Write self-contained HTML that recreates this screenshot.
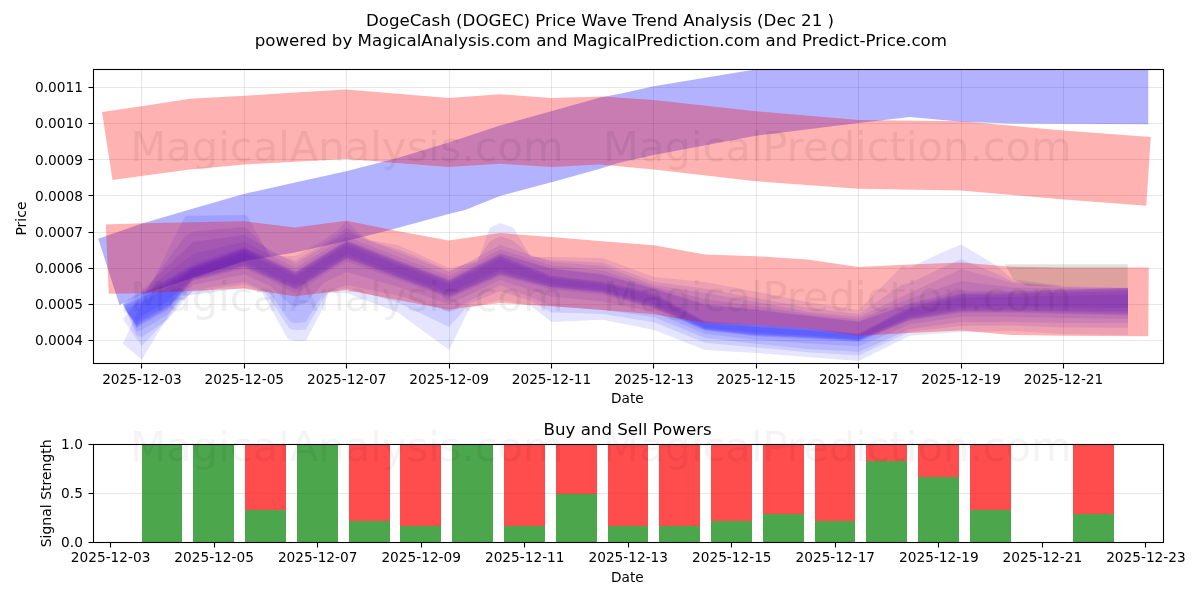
<!DOCTYPE html>
<html lang="en"><head><meta charset="utf-8"><title>DogeCash (DOGEC) Price Wave Trend Analysis</title>
<style>html,body{margin:0;padding:0;background:#fff;overflow:hidden}body{width:1200px;height:600px}svg text{white-space:pre}</style>
</head><body>
<svg width="1200" height="600" viewBox="0 0 1200 600" style="display:block;font-family:'DejaVu Sans', 'Liberation Sans', sans-serif">
<rect x="0" y="0" width="1200" height="600" fill="#fff"/>
<defs><clipPath id="c1"><rect x="93.50" y="69.50" width="1070.00" height="294.00"/></clipPath>
<clipPath id="c2"><rect x="93.50" y="444.50" width="1070.00" height="98.00"/></clipPath></defs>
<g stroke="#b0b0b0" stroke-opacity="0.3" stroke-width="1.1" shape-rendering="crispEdges">
<line x1="141.5" y1="69.5" x2="141.5" y2="363.5"/>
<line x1="244.5" y1="69.5" x2="244.5" y2="363.5"/>
<line x1="346.5" y1="69.5" x2="346.5" y2="363.5"/>
<line x1="449.5" y1="69.5" x2="449.5" y2="363.5"/>
<line x1="551.5" y1="69.5" x2="551.5" y2="363.5"/>
<line x1="653.5" y1="69.5" x2="653.5" y2="363.5"/>
<line x1="756.5" y1="69.5" x2="756.5" y2="363.5"/>
<line x1="858.5" y1="69.5" x2="858.5" y2="363.5"/>
<line x1="961.5" y1="69.5" x2="961.5" y2="363.5"/>
<line x1="1063.5" y1="69.5" x2="1063.5" y2="363.5"/>
<line x1="93.5" y1="340.5" x2="1163.5" y2="340.5"/>
<line x1="93.5" y1="304.5" x2="1163.5" y2="304.5"/>
<line x1="93.5" y1="268.5" x2="1163.5" y2="268.5"/>
<line x1="93.5" y1="232.5" x2="1163.5" y2="232.5"/>
<line x1="93.5" y1="195.5" x2="1163.5" y2="195.5"/>
<line x1="93.5" y1="159.5" x2="1163.5" y2="159.5"/>
<line x1="93.5" y1="123.5" x2="1163.5" y2="123.5"/>
<line x1="93.5" y1="87.5" x2="1163.5" y2="87.5"/>
</g>
<g clip-path="url(#c1)">
<polygon points="98.25,238.75 141.25,223.75 192.50,208.75 244.50,193.75 295.00,182.50 346.25,171.25 397.50,158.00 448.70,142.50 500.00,125.60 552.00,111.00 600.00,97.50 620.00,93.75 653.75,86.25 755.00,69.40 807.00,58.00 1148.25,50.00 1148.25,124.25 1012.00,123.50 961.25,121.75 910.00,117.00 858.75,123.00 756.00,135.75 653.75,155.00 620.00,162.50 600.00,168.75 552.50,182.00 500.00,196.00 465.00,210.00 448.75,214.00 390.00,230.00 346.00,241.00 295.00,252.50 244.50,261.00 192.50,278.00 141.25,295.00 119.50,305.00" fill="#0000ff" fill-opacity="0.3" />
<polygon points="122.96,343.70 141.90,302.00 167.50,251.24 180.30,225.85 185.42,215.70 193.10,215.70 244.30,215.00 246.86,215.70 262.22,242.57 269.90,256.00 287.82,256.00 290.38,256.00 295.50,256.00 305.74,250.18 321.10,241.45 323.66,240.00 328.78,236.40 336.46,231.00 346.70,221.00 356.94,231.00 369.74,240.00 397.90,245.00 449.10,268.00 469.58,263.64 477.26,262.00 490.06,227.50 500.30,223.00 513.10,227.50 531.02,257.00 551.50,257.00 602.70,258.00 653.90,277.00 705.10,282.00 756.30,291.70 807.50,302.00 858.70,310.00 902.22,266.00 909.90,267.70 940.62,253.00 961.10,244.50 984.14,258.00 996.94,266.00 1012.30,279.00 1063.50,286.00 1128.01,287.00 1128.01,335.00 1063.50,334.00 1012.30,331.00 996.94,331.30 984.14,331.55 961.10,332.00 940.62,333.48 909.90,335.70 902.22,339.50 858.70,361.00 807.50,357.00 756.30,353.00 705.10,350.00 653.90,330.00 602.70,319.70 551.50,322.00 531.02,306.00 513.10,302.50 500.30,300.00 490.06,302.67 477.26,306.00 469.58,308.00 449.10,350.00 397.90,312.50 369.74,301.77 356.94,296.90 346.70,293.00 336.46,293.00 328.78,293.00 323.66,305.47 321.10,311.70 305.74,341.00 295.50,341.00 290.38,339.67 287.82,339.00 269.90,306.80 262.22,293.00 246.86,288.71 244.30,288.00 193.10,295.00 185.42,295.60 180.30,296.00 167.50,317.23 141.90,359.70 122.96,343.70" fill="#0000ff" fill-opacity="0.1" />
<polygon points="122.96,319.28 141.90,295.10 167.50,260.24 180.30,242.82 185.42,235.84 193.10,231.48 244.30,227.00 246.86,228.15 262.22,244.12 269.90,252.10 287.82,258.19 290.38,259.06 295.50,260.80 305.74,254.63 321.10,245.38 323.66,243.84 328.78,240.48 336.46,235.44 346.70,227.60 356.94,234.00 369.74,240.60 397.90,249.20 449.10,270.40 469.58,262.17 477.26,259.09 490.06,241.24 500.30,236.20 513.10,240.55 531.02,255.92 551.50,260.00 602.70,262.80 653.90,281.80 705.10,288.60 756.30,297.88 807.50,307.82 858.70,314.20 902.22,284.36 909.90,282.88 940.62,268.36 961.10,259.20 984.14,268.38 996.94,273.68 1012.30,281.40 1063.50,286.60 1128.01,287.60 1128.01,327.80 1063.50,327.40 1012.30,325.60 996.94,325.72 984.14,325.82 961.10,326.00 940.62,328.27 909.90,331.68 902.22,335.24 858.70,355.42 807.50,352.20 756.30,347.42 705.10,342.80 653.90,322.20 602.70,313.88 551.50,312.40 531.02,300.96 513.10,295.15 500.30,291.00 490.06,295.27 477.26,300.61 469.58,303.81 449.10,327.02 397.90,302.42 369.74,294.60 356.94,291.04 346.70,288.20 336.46,290.33 328.78,291.93 323.66,297.99 321.10,302.97 305.74,329.60 295.50,330.20 290.38,329.07 287.82,326.62 269.90,298.52 262.22,291.02 246.86,285.35 244.30,284.40 193.10,292.00 185.42,297.64 180.30,301.40 167.50,318.89 141.90,346.08 136.70,339.08" fill="#0000ff" fill-opacity="0.1" />
<polygon points="122.96,303.00 141.90,290.50 167.50,266.25 180.30,254.12 185.42,249.28 193.10,242.00 244.30,235.00 246.86,236.45 262.22,245.15 269.90,249.50 287.82,259.65 290.38,261.10 295.50,264.00 305.74,257.60 321.10,248.00 323.66,246.40 328.78,243.20 336.46,238.40 346.70,232.00 356.94,236.00 369.74,241.00 397.90,252.00 449.10,272.00 469.58,261.20 477.26,257.15 490.06,250.40 500.30,245.00 513.10,249.25 531.02,255.20 551.50,262.00 602.70,266.00 653.90,285.00 705.10,293.00 756.30,302.00 807.50,311.70 858.70,317.00 902.22,296.60 909.90,293.00 940.62,278.60 961.10,269.00 984.14,275.30 996.94,278.80 1012.30,283.00 1063.50,287.00 1128.01,288.00 1128.01,323.00 1063.50,323.00 1012.30,322.00 996.94,322.00 984.14,322.00 961.10,322.00 940.62,324.80 909.90,329.00 902.22,332.41 858.70,351.70 807.50,349.00 756.30,343.70 705.10,338.00 653.90,317.00 602.70,310.00 551.50,306.00 531.02,297.60 513.10,290.25 500.30,285.00 490.06,290.34 477.26,297.01 469.58,301.02 449.10,311.70 397.90,295.70 369.74,289.81 356.94,287.14 346.70,285.00 336.46,288.56 328.78,291.22 323.66,293.00 321.10,297.14 305.74,322.00 295.50,323.00 290.38,322.00 287.82,318.38 269.90,293.00 262.22,289.70 246.86,283.10 244.30,282.00 193.10,290.00 185.42,299.00 180.30,305.00 167.50,320.00 141.90,337.00 136.70,336.00" fill="#0000ff" fill-opacity="0.1" />
<polygon points="122.96,303.75 141.90,292.50 167.50,273.25 180.30,263.62 185.42,259.77 193.10,254.00 244.30,241.50 246.86,242.82 262.22,250.77 269.90,254.75 287.82,264.02 290.38,265.35 295.50,268.00 305.74,261.70 321.10,252.25 323.66,250.68 328.78,247.52 336.46,242.80 346.70,236.50 356.94,240.50 369.74,245.50 397.90,256.50 449.10,276.00 469.58,265.40 477.26,261.42 490.06,254.80 500.30,249.50 513.10,253.50 531.02,259.10 551.50,265.50 602.70,270.50 653.90,287.00 705.10,299.00 756.30,306.00 807.50,313.85 858.70,319.50 902.22,301.65 909.90,298.50 940.62,288.00 961.10,281.00 984.14,283.93 996.94,285.55 1012.30,287.50 1063.50,288.50 1128.01,288.00 1128.01,318.75 1063.50,318.00 1012.30,316.85 996.94,316.85 984.14,316.85 961.10,316.85 940.62,319.85 909.90,324.35 902.22,327.65 858.70,346.35 807.50,343.50 756.30,339.70 705.10,334.00 653.90,312.35 602.70,301.50 551.50,296.85 531.02,290.11 513.10,284.21 500.30,280.00 490.06,284.87 477.26,290.96 469.58,294.61 449.10,304.35 397.90,286.85 369.74,278.68 356.94,274.97 346.70,272.00 336.46,276.88 328.78,280.54 323.66,282.98 321.10,285.82 305.74,302.90 295.50,306.50 290.38,304.85 287.82,302.46 269.90,285.75 262.22,282.38 246.86,275.62 244.30,274.50 193.10,285.00 185.42,293.85 180.30,299.75 167.50,314.50 141.90,330.00 136.70,331.75" fill="#0000ff" fill-opacity="0.1" />
<polygon points="122.96,304.35 141.90,294.10 167.50,278.85 180.30,271.23 185.42,268.17 193.10,263.60 244.30,246.70 246.86,247.92 262.22,255.27 269.90,258.95 287.82,267.52 290.38,268.75 295.50,271.20 305.74,264.98 321.10,255.65 323.66,254.09 328.78,250.98 336.46,246.32 346.70,240.10 356.94,244.10 369.74,249.10 397.90,260.10 449.10,279.20 469.58,268.76 477.26,264.84 490.06,258.32 500.30,253.10 513.10,256.90 531.02,262.22 551.50,268.30 602.70,274.10 653.90,288.60 705.10,303.80 756.30,309.20 807.50,315.57 858.70,321.50 902.22,305.69 909.90,302.90 940.62,295.52 961.10,290.60 984.14,290.82 996.94,290.95 1012.30,291.10 1063.50,289.70 1128.01,288.00 1128.01,315.35 1063.50,314.00 1012.30,312.73 996.94,312.73 984.14,312.73 961.10,312.73 940.62,315.89 909.90,320.63 902.22,323.85 858.70,342.07 807.50,339.10 756.30,336.50 705.10,330.80 653.90,308.63 602.70,294.70 551.50,289.53 531.02,284.12 513.10,279.38 500.30,276.00 490.06,280.49 477.26,286.11 469.58,289.48 449.10,298.47 397.90,279.77 369.74,269.78 356.94,265.23 346.70,261.60 336.46,267.54 328.78,271.99 323.66,274.95 321.10,276.76 305.74,287.62 295.50,293.30 290.38,291.13 287.82,289.73 269.90,279.95 262.22,276.51 246.86,269.64 244.30,268.50 193.10,281.00 185.42,289.73 180.30,295.55 167.50,310.10 141.90,324.40 136.70,328.35" fill="#0000ff" fill-opacity="0.1" />
<polygon points="122.96,304.50 141.90,294.50 167.50,280.25 180.30,273.12 185.42,270.27 193.10,266.00 244.30,248.00 246.86,249.20 262.22,256.40 269.90,260.00 287.82,268.40 290.38,269.60 295.50,272.00 305.74,265.80 321.10,256.50 323.66,254.95 328.78,251.85 336.46,247.20 346.70,241.00 356.94,245.00 369.74,250.00 397.90,261.00 449.10,280.00 469.58,269.60 477.26,265.70 490.06,259.20 500.30,254.00 513.10,257.75 531.02,263.00 551.50,269.00 602.70,275.00 653.90,289.00 705.10,305.00 756.30,310.00 807.50,316.00 858.70,322.00 902.22,306.70 909.90,304.00 940.62,297.40 961.10,293.00 984.14,292.55 996.94,292.30 1012.30,292.00 1063.50,290.00 1128.01,288.00 1128.01,314.50 1063.50,313.00 1012.30,311.70 996.94,311.70 984.14,311.70 961.10,311.70 940.62,314.90 909.90,319.70 902.22,322.89 858.70,341.00 807.50,338.00 756.30,335.70 705.10,330.00 653.90,307.70 602.70,293.00 551.50,287.70 531.02,282.62 513.10,278.18 500.30,275.00 490.06,279.40 477.26,284.90 469.58,288.20 449.10,297.00 397.90,278.00 369.74,267.55 356.94,262.80 346.70,259.00 336.46,265.20 328.78,269.85 323.66,272.95 321.10,274.50 305.74,283.80 295.50,290.00 290.38,287.70 287.82,286.55 269.90,278.50 262.22,275.05 246.86,268.15 244.30,267.00 193.10,280.00 185.42,288.70 180.30,294.50 167.50,309.00 141.90,323.00 136.70,327.50" fill="#0000ff" fill-opacity="0.1" />
<polygon points="122.96,305.88 141.90,296.21 167.50,281.98 180.30,274.41 185.42,271.38 193.10,266.84 244.30,249.14 246.86,250.34 262.22,257.52 269.90,261.11 287.82,269.49 290.38,270.69 295.50,273.08 305.74,266.88 321.10,257.58 323.66,256.03 328.78,252.93 336.46,248.28 346.70,242.08 356.94,246.07 369.74,251.05 397.90,262.02 449.10,281.02 469.58,270.72 477.26,266.85 490.06,260.41 500.30,255.26 513.10,260.39 531.02,267.56 551.50,275.76 602.70,281.72 653.90,292.94 705.10,321.54 756.30,324.70 807.50,328.60 858.70,333.48 902.22,310.82 909.90,306.82 940.62,299.20 961.10,294.12 984.14,293.70 996.94,293.46 1012.30,293.18 1063.50,291.38 1128.01,289.59 1128.01,312.91 1063.50,311.62 1012.30,310.52 996.94,310.54 984.14,310.55 961.10,310.58 940.62,313.90 909.90,318.88 902.22,322.12 858.70,340.52 807.50,337.40 756.30,335.00 705.10,329.46 653.90,306.76 602.70,292.28 551.50,286.94 531.02,281.66 513.10,277.04 500.30,273.74 490.06,278.19 477.26,283.75 469.58,287.08 449.10,295.98 397.90,276.98 369.74,266.50 356.94,261.73 346.70,257.92 336.46,264.12 328.78,268.77 323.66,271.87 321.10,273.42 305.74,282.72 295.50,288.92 290.38,286.61 287.82,285.46 269.90,277.39 262.22,273.93 246.86,267.01 244.30,265.86 193.10,279.16 185.42,287.59 180.30,293.22 167.50,307.27 141.90,321.29 136.70,326.12" fill="#0000ff" fill-opacity="0.1" />
<polygon points="122.96,307.26 141.90,297.92 167.50,283.70 180.30,275.69 185.42,272.49 193.10,267.68 244.30,250.28 246.86,251.47 262.22,258.64 269.90,262.22 287.82,270.58 290.38,271.77 295.50,274.16 305.74,267.96 321.10,258.66 323.66,257.11 328.78,254.01 336.46,249.36 346.70,243.16 356.94,247.14 369.74,252.11 397.90,263.04 449.10,282.04 469.58,271.83 477.26,268.00 490.06,261.62 500.30,256.52 513.10,261.52 531.02,268.52 551.50,276.52 602.70,282.44 653.90,293.88 705.10,322.08 756.30,325.40 807.50,329.20 858.70,333.96 902.22,311.59 909.90,307.64 940.62,300.20 961.10,295.24 984.14,294.85 996.94,294.63 1012.30,294.36 1063.50,292.76 1128.01,291.18 1128.01,311.32 1063.50,310.24 1012.30,309.34 996.94,309.37 984.14,309.40 961.10,309.46 940.62,312.90 909.90,318.06 902.22,321.35 858.70,340.04 807.50,336.80 756.30,334.30 705.10,328.92 653.90,305.82 602.70,291.56 551.50,286.18 531.02,280.70 513.10,275.90 500.30,272.48 490.06,276.98 477.26,282.60 469.58,285.97 449.10,294.96 397.90,275.96 369.74,265.44 356.94,260.66 346.70,256.84 336.46,263.04 328.78,267.69 323.66,270.79 321.10,272.34 305.74,281.64 295.50,287.84 290.38,285.53 287.82,284.37 269.90,276.28 262.22,272.81 246.86,265.88 244.30,264.72 193.10,278.32 185.42,286.49 180.30,291.94 167.50,305.55 141.90,319.58 136.70,324.74" fill="#0000ff" fill-opacity="0.1" />
<polygon points="122.96,310.25 141.90,301.62 167.50,287.44 180.30,278.47 185.42,274.88 193.10,269.50 244.30,252.75 246.86,253.94 262.22,261.06 269.90,264.62 287.82,272.94 290.38,274.12 295.50,276.50 305.74,270.30 321.10,261.00 323.66,259.45 328.78,256.35 336.46,251.70 346.70,245.50 356.94,249.45 369.74,254.39 397.90,265.25 449.10,284.25 469.58,274.25 477.26,270.50 490.06,264.25 500.30,259.25 513.10,263.98 531.02,270.61 551.50,278.18 602.70,284.00 653.90,295.93 705.10,323.25 756.30,326.93 807.50,330.50 858.70,335.00 902.22,313.26 909.90,309.43 940.62,302.38 961.10,297.68 984.14,297.34 996.94,297.15 1012.30,296.93 1063.50,295.75 1128.01,294.62 1128.01,307.88 1063.50,307.25 1012.30,306.77 996.94,306.85 984.14,306.91 961.10,307.02 940.62,310.72 909.90,316.27 902.22,319.68 858.70,339.00 807.50,335.50 756.30,332.77 705.10,327.75 653.90,303.77 602.70,290.00 551.50,284.52 531.02,278.62 513.10,273.44 500.30,269.75 490.06,274.35 477.26,280.10 469.58,283.55 449.10,292.75 397.90,273.75 369.74,263.16 356.94,258.35 346.70,254.50 336.46,260.70 328.78,265.35 323.66,268.45 321.10,270.00 305.74,279.30 295.50,285.50 290.38,283.17 287.82,282.01 269.90,273.88 262.22,270.39 246.86,263.41 244.30,262.25 193.10,276.50 185.42,284.09 180.30,289.16 167.50,301.81 141.90,315.88 136.70,321.75" fill="#0000ff" fill-opacity="0.1" />
<polygon points="102.00,112.00 141.50,106.25 190.00,98.75 244.50,95.75 295.00,92.60 346.30,89.50 397.50,93.75 448.70,98.00 500.00,94.25 551.00,98.00 602.00,96.50 653.75,100.00 756.00,111.25 858.75,120.00 961.25,121.25 1063.75,130.50 1150.75,137.00 1146.25,205.75 1063.75,199.50 961.00,190.50 858.75,188.75 756.00,181.25 653.75,169.50 600.00,164.50 552.00,167.00 500.00,163.75 448.70,167.00 397.50,163.00 346.30,159.00 295.00,161.70 244.50,164.50 190.00,169.50 141.50,176.00 112.50,180.00" fill="#ff0000" fill-opacity="0.3" />
<polygon points="105.75,224.50 141.25,223.25 244.50,221.25 295.00,227.50 346.25,220.75 397.50,231.00 448.70,240.50 500.00,233.00 551.20,237.00 602.50,241.25 653.75,245.25 705.00,254.50 756.25,256.25 807.50,259.50 858.75,267.00 910.00,264.50 960.50,262.50 1012.00,266.75 1063.75,267.50 1148.75,267.50 1148.25,336.25 1063.75,335.75 1012.00,335.00 960.50,330.50 910.00,333.00 858.75,335.75 807.50,328.75 756.25,325.00 705.00,323.00 653.75,314.25 602.50,310.00 551.20,306.25 500.00,303.00 448.70,309.50 397.50,300.00 346.25,290.00 295.00,296.25 244.50,288.50 141.25,293.25 108.75,293.75" fill="#ff0000" fill-opacity="0.3" />
<polygon points="1005.00,264.20 1127.70,264.20 1127.70,287.00 1028.00,286.00 1013.00,279.00" fill="#008000" fill-opacity="0.1" />
<polygon points="1005.00,264.20 1127.70,264.20 1127.70,287.00 1028.00,286.00 1013.00,279.00" fill="#800080" fill-opacity="0.06" />
</g>
<g stroke="#000" stroke-width="1.1">
<line x1="141.50" y1="363.50" x2="141.50" y2="368.50"/>
<line x1="244.50" y1="363.50" x2="244.50" y2="368.50"/>
<line x1="346.50" y1="363.50" x2="346.50" y2="368.50"/>
<line x1="449.50" y1="363.50" x2="449.50" y2="368.50"/>
<line x1="551.50" y1="363.50" x2="551.50" y2="368.50"/>
<line x1="653.50" y1="363.50" x2="653.50" y2="368.50"/>
<line x1="756.50" y1="363.50" x2="756.50" y2="368.50"/>
<line x1="858.50" y1="363.50" x2="858.50" y2="368.50"/>
<line x1="961.50" y1="363.50" x2="961.50" y2="368.50"/>
<line x1="1063.50" y1="363.50" x2="1063.50" y2="368.50"/>
<line x1="88.50" y1="340.50" x2="93.50" y2="340.50"/>
<line x1="88.50" y1="304.50" x2="93.50" y2="304.50"/>
<line x1="88.50" y1="268.50" x2="93.50" y2="268.50"/>
<line x1="88.50" y1="232.50" x2="93.50" y2="232.50"/>
<line x1="88.50" y1="195.50" x2="93.50" y2="195.50"/>
<line x1="88.50" y1="159.50" x2="93.50" y2="159.50"/>
<line x1="88.50" y1="123.50" x2="93.50" y2="123.50"/>
<line x1="88.50" y1="87.50" x2="93.50" y2="87.50"/>
</g>
<g font-size="13.7" fill="#000">
<text x="141.90" y="383.50" text-anchor="middle">2025-12-03</text>
<text x="244.30" y="383.50" text-anchor="middle">2025-12-05</text>
<text x="346.70" y="383.50" text-anchor="middle">2025-12-07</text>
<text x="449.10" y="383.50" text-anchor="middle">2025-12-09</text>
<text x="551.50" y="383.50" text-anchor="middle">2025-12-11</text>
<text x="653.90" y="383.50" text-anchor="middle">2025-12-13</text>
<text x="756.30" y="383.50" text-anchor="middle">2025-12-15</text>
<text x="858.70" y="383.50" text-anchor="middle">2025-12-17</text>
<text x="961.10" y="383.50" text-anchor="middle">2025-12-19</text>
<text x="1063.50" y="383.50" text-anchor="middle">2025-12-21</text>
<text x="82.90" y="345.40" text-anchor="end">0.0004</text>
<text x="82.90" y="309.24" text-anchor="end">0.0005</text>
<text x="82.90" y="273.08" text-anchor="end">0.0006</text>
<text x="82.90" y="236.92" text-anchor="end">0.0007</text>
<text x="82.90" y="200.76" text-anchor="end">0.0008</text>
<text x="82.90" y="164.60" text-anchor="end">0.0009</text>
<text x="82.90" y="128.44" text-anchor="end">0.0010</text>
<text x="82.90" y="92.28" text-anchor="end">0.0011</text>
<text x="627.4" y="403.3" text-anchor="middle">Date</text>
<text transform="translate(26.2,218.5) rotate(-90)" text-anchor="middle" font-size="14">Price</text>
</g>
<g font-size="41.67" fill="#000" fill-opacity="0.062" text-anchor="middle">
<text x="347.0" y="160.6">MagicalAnalysis.com</text>
<text x="837.3" y="160.6">MagicalPrediction.com</text>
<text x="347.0" y="310.6">MagicalAnalysis.com</text>
<text x="837.3" y="310.6">MagicalPrediction.com</text>
</g>
<rect x="93.50" y="69.50" width="1070.00" height="294.00" fill="none" stroke="#000" stroke-width="1.1"/>
<g stroke="#b0b0b0" stroke-opacity="0.3" stroke-width="1.1" shape-rendering="crispEdges">
<line x1="93.5" y1="493.5" x2="1163.5" y2="493.5"/>
</g>
<g clip-path="url(#c2)" shape-rendering="crispEdges">
<rect x="141.66" y="444.50" width="40.79" height="98.00" fill="#008000" fill-opacity="0.7"/>
<rect x="193.42" y="444.50" width="40.79" height="98.00" fill="#008000" fill-opacity="0.7"/>
<rect x="245.19" y="509.87" width="40.79" height="32.63" fill="#008000" fill-opacity="0.7"/>
<rect x="245.19" y="444.50" width="40.79" height="65.37" fill="#ff0000" fill-opacity="0.7"/>
<rect x="296.95" y="444.50" width="40.79" height="98.00" fill="#008000" fill-opacity="0.7"/>
<rect x="348.72" y="520.74" width="40.79" height="21.76" fill="#008000" fill-opacity="0.7"/>
<rect x="348.72" y="444.50" width="40.79" height="76.24" fill="#ff0000" fill-opacity="0.7"/>
<rect x="400.48" y="526.13" width="40.79" height="16.37" fill="#008000" fill-opacity="0.7"/>
<rect x="400.48" y="444.50" width="40.79" height="81.63" fill="#ff0000" fill-opacity="0.7"/>
<rect x="452.25" y="444.50" width="40.79" height="98.00" fill="#008000" fill-opacity="0.7"/>
<rect x="504.01" y="526.13" width="40.79" height="16.37" fill="#008000" fill-opacity="0.7"/>
<rect x="504.01" y="444.50" width="40.79" height="81.63" fill="#ff0000" fill-opacity="0.7"/>
<rect x="555.78" y="493.50" width="40.79" height="49.00" fill="#008000" fill-opacity="0.7"/>
<rect x="555.78" y="444.50" width="40.79" height="49.00" fill="#ff0000" fill-opacity="0.7"/>
<rect x="607.54" y="526.13" width="40.79" height="16.37" fill="#008000" fill-opacity="0.7"/>
<rect x="607.54" y="444.50" width="40.79" height="81.63" fill="#ff0000" fill-opacity="0.7"/>
<rect x="659.31" y="526.13" width="40.79" height="16.37" fill="#008000" fill-opacity="0.7"/>
<rect x="659.31" y="444.50" width="40.79" height="81.63" fill="#ff0000" fill-opacity="0.7"/>
<rect x="711.07" y="520.74" width="40.79" height="21.76" fill="#008000" fill-opacity="0.7"/>
<rect x="711.07" y="444.50" width="40.79" height="76.24" fill="#ff0000" fill-opacity="0.7"/>
<rect x="762.84" y="514.47" width="40.79" height="28.03" fill="#008000" fill-opacity="0.7"/>
<rect x="762.84" y="444.50" width="40.79" height="69.97" fill="#ff0000" fill-opacity="0.7"/>
<rect x="814.60" y="520.74" width="40.79" height="21.76" fill="#008000" fill-opacity="0.7"/>
<rect x="814.60" y="444.50" width="40.79" height="76.24" fill="#ff0000" fill-opacity="0.7"/>
<rect x="866.37" y="460.87" width="40.79" height="81.63" fill="#008000" fill-opacity="0.7"/>
<rect x="866.37" y="444.50" width="40.79" height="16.37" fill="#ff0000" fill-opacity="0.7"/>
<rect x="918.13" y="477.13" width="40.79" height="65.37" fill="#008000" fill-opacity="0.7"/>
<rect x="918.13" y="444.50" width="40.79" height="32.63" fill="#ff0000" fill-opacity="0.7"/>
<rect x="969.90" y="509.87" width="40.79" height="32.63" fill="#008000" fill-opacity="0.7"/>
<rect x="969.90" y="444.50" width="40.79" height="65.37" fill="#ff0000" fill-opacity="0.7"/>
<rect x="1073.43" y="514.47" width="40.79" height="28.03" fill="#008000" fill-opacity="0.7"/>
<rect x="1073.43" y="444.50" width="40.79" height="69.97" fill="#ff0000" fill-opacity="0.7"/>
</g>
<g stroke="#000" stroke-width="1.1">
<line x1="110.50" y1="542.50" x2="110.50" y2="547.50"/>
<line x1="214.50" y1="542.50" x2="214.50" y2="547.50"/>
<line x1="317.50" y1="542.50" x2="317.50" y2="547.50"/>
<line x1="421.50" y1="542.50" x2="421.50" y2="547.50"/>
<line x1="524.50" y1="542.50" x2="524.50" y2="547.50"/>
<line x1="628.50" y1="542.50" x2="628.50" y2="547.50"/>
<line x1="731.50" y1="542.50" x2="731.50" y2="547.50"/>
<line x1="835.50" y1="542.50" x2="835.50" y2="547.50"/>
<line x1="938.50" y1="542.50" x2="938.50" y2="547.50"/>
<line x1="1042.50" y1="542.50" x2="1042.50" y2="547.50"/>
<line x1="1145.50" y1="542.50" x2="1145.50" y2="547.50"/>
<line x1="88.50" y1="542.50" x2="93.50" y2="542.50"/>
<line x1="88.50" y1="493.50" x2="93.50" y2="493.50"/>
<line x1="88.50" y1="444.50" x2="93.50" y2="444.50"/>
</g>
<g font-size="13.7" fill="#000">
<text x="110.60" y="561.90" text-anchor="middle">2025-12-03</text>
<text x="214.13" y="561.90" text-anchor="middle">2025-12-05</text>
<text x="317.66" y="561.90" text-anchor="middle">2025-12-07</text>
<text x="421.19" y="561.90" text-anchor="middle">2025-12-09</text>
<text x="524.72" y="561.90" text-anchor="middle">2025-12-11</text>
<text x="628.25" y="561.90" text-anchor="middle">2025-12-13</text>
<text x="731.78" y="561.90" text-anchor="middle">2025-12-15</text>
<text x="835.31" y="561.90" text-anchor="middle">2025-12-17</text>
<text x="938.84" y="561.90" text-anchor="middle">2025-12-19</text>
<text x="1042.37" y="561.90" text-anchor="middle">2025-12-21</text>
<text x="1145.90" y="561.90" text-anchor="middle">2025-12-23</text>
<text x="82.90" y="547.30" text-anchor="end">0.0</text>
<text x="82.90" y="498.30" text-anchor="end">0.5</text>
<text x="82.90" y="449.30" text-anchor="end">1.0</text>
<text x="627.4" y="582.3" text-anchor="middle">Date</text>
<text transform="translate(50.6,493.3) rotate(-90)" text-anchor="middle" font-size="14">Signal Strength</text>
</g>
<text x="627.6" y="434.8" font-size="16.67" text-anchor="middle" fill="#000">Buy and Sell Powers</text>
<g font-size="41.67" fill="#000" fill-opacity="0.045" text-anchor="middle">
<text x="347.0" y="460.6">MagicalAnalysis.com</text>
<text x="837.3" y="460.6">MagicalPrediction.com</text>
</g>
<rect x="93.50" y="444.50" width="1070.00" height="98.00" fill="none" stroke="#000" stroke-width="1.1"/>
<g font-size="16.67" fill="#000" text-anchor="middle">
<text x="600" y="26">DogeCash (DOGEC) Price Wave Trend Analysis (Dec 21 )</text>
<text x="600.8" y="46.2">powered by MagicalAnalysis.com and MagicalPrediction.com and Predict-Price.com</text>
</g>
</svg>
</body></html>
